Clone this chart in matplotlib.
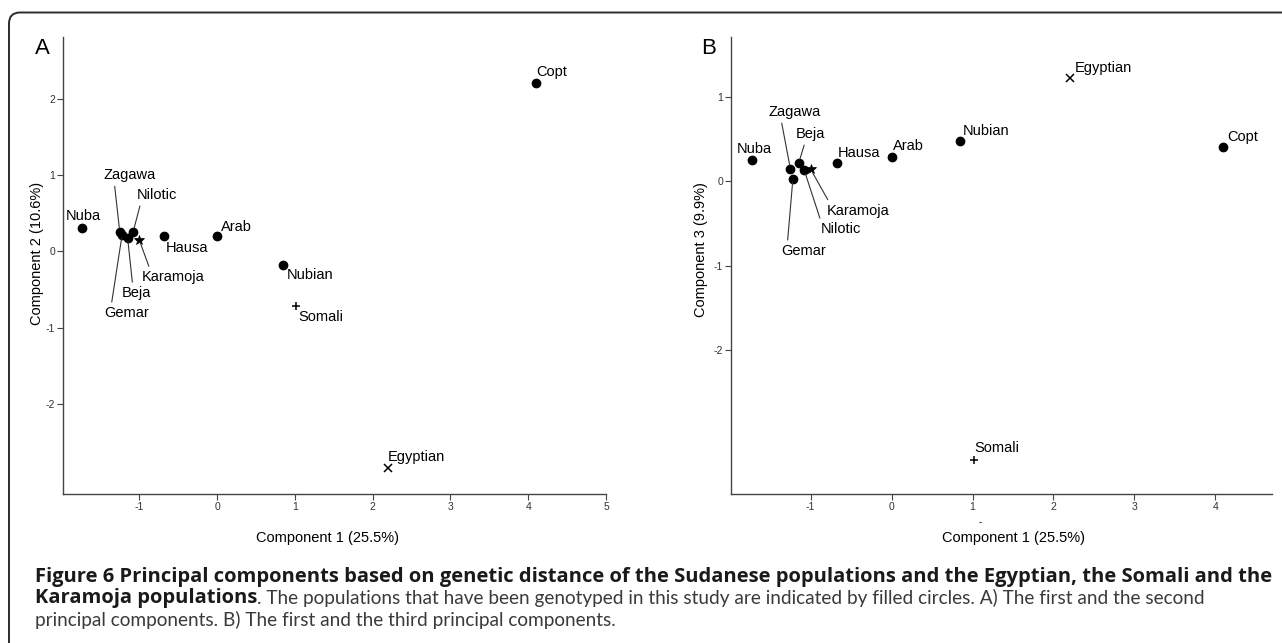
import matplotlib
matplotlib.use('Agg')
import matplotlib.pyplot as plt
from matplotlib.patches import FancyBboxPatch

plt.rcParams['font.family'] = ['Liberation Sans', 'DejaVu Sans']
plt.rcParams['axes.unicode_minus'] = False

# Values
populations = ['Nuba', 'Zagawa', 'Gemar', 'Beja', 'Nilotic', 'Karamoja',
               'Hausa', 'Arab', 'Nubian', 'Somali', 'Egyptian', 'Copt']
pc1 = [-1.73, -1.25, -1.22, -1.15, -1.08, -1.00, -0.68, 0.00, 0.85, 1.02, 2.20, 4.10]
pc2 = [0.31, 0.25, 0.22, 0.18, 0.25, 0.15, 0.20, 0.20, -0.18, -0.72, -2.84, 2.21]
pc3 = [0.25, 0.14, 0.03, 0.21, 0.13, 0.14, 0.21, 0.29, 0.48, -3.31, 1.22, 0.40]
# populations not genotyped in this study get their own symbol
symbols = {'Karamoja': '*', 'Somali': '+', 'Egyptian': 'x'}

xticks_a = [-1, 0, 1, 2, 3, 4, 5]
yticks_a = [2, 1, 0, -1, -2]
xticks_b = [-1, 0, 1, 2, 3, 4]
yticks_b = [1, 0, -1, -2]

# label placement: (x, y, ha, va, relpos of leader line or None)
labels_a = {
    'Copt': (4.10, 2.35, 'left', 'center', None),
    'Nuba': (-1.95, 0.46, 'left', 'center', None),
    'Zagawa': (-1.12, 1.00, 'center', 'center', (0.2, 0.0)),
    'Nilotic': (-0.77, 0.74, 'center', 'center', (0.1, 0.0)),
    'Hausa': (-0.66, 0.05, 'left', 'center', None),
    'Arab': (0.05, 0.32, 'left', 'center', None),
    'Nubian': (0.90, -0.31, 'left', 'center', None),
    'Karamoja': (-0.97, -0.34, 'left', 'center', (0.14, 1.0)),
    'Beja': (-1.03, -0.55, 'center', 'center', (0.36, 1.0)),
    'Gemar': (-1.16, -0.81, 'center', 'center', (0.15, 1.0)),
    'Somali': (1.04, -0.86, 'left', 'center', None),
    'Egyptian': (2.20, -2.70, 'left', 'center', None),
}
labels_b = {
    'Egyptian': (2.26, 1.34, 'left', 'center', None),
    'Nubian': (0.88, 0.60, 'left', 'center', None),
    'Copt': (4.15, 0.52, 'left', 'center', None),
    'Nuba': (-1.70, 0.38, 'center', 'center', None),
    'Arab': (0.02, 0.42, 'left', 'center', None),
    'Hausa': (-0.67, 0.34, 'left', 'center', None),
    'Zagawa': (-1.20, 0.82, 'center', 'center', (0.24, 0.0)),
    'Beja': (-1.00, 0.56, 'center', 'center', (0.32, 0.0)),
    'Karamoja': (-0.80, -0.35, 'left', 'center', (0.05, 1.0)),
    'Nilotic': (-0.87, -0.57, 'left', 'center', (0.0, 1.0)),
    'Gemar': (-1.09, -0.83, 'center', 'center', (0.14, 1.0)),
    'Somali': (1.02, -3.17, 'left', 'center', None),
}

W, H = 1282, 643
fig = plt.figure(figsize=(W / 100, H / 100), dpi=100)

# rounded frame around the figure (open at the bottom / right)
frame = FancyBboxPatch((9, -40), 1300, H - 12.5 + 40, boxstyle='round,pad=0,rounding_size=11',
                       transform=None, fill=False, ec='#2b2b2b', lw=1.4)
fig.patches.append(frame)

tick_font = ['Liberation Sans Narrow', 'Liberation Sans']


def px_box(left, top, right, bottom):
    return [left / W, 1 - bottom / H, (right - left) / W, (bottom - top) / H]


def draw_panel(ax, ys, labels, xlim, ylim, xticks, yticks):
    for name, x, y in zip(populations, pc1, ys):
        m = symbols.get(name, 'o')
        if m == 'o':
            ax.plot(x, y, 'o', color='black', ms=6, zorder=3)
        elif m == '*':
            ax.plot(x, y, '*', color='black', ms=7, mew=0.5, zorder=3)
        else:
            ax.plot(x, y, m, color='black', ms=6, mew=1.1, zorder=3)
    for name, x, y in zip(populations, pc1, ys):
        tx, ty, ha, va, rel = labels[name]
        if rel is None:
            ax.text(tx, ty, name, ha=ha, va=va, fontsize=10.5)
        else:
            ax.annotate(name, xy=(x, y), xytext=(tx, ty), ha=ha, va=va, fontsize=10.5,
                        arrowprops=dict(arrowstyle='-', color='#333333', lw=0.8,
                                        relpos=rel, shrinkA=1, shrinkB=3))
    ax.set_xlim(*xlim)
    ax.set_ylim(*ylim)
    ax.set_xticks(xticks)
    ax.set_yticks(yticks)
    ax.spines['top'].set_visible(False)
    ax.spines['right'].set_visible(False)
    for s in ('left', 'bottom'):
        ax.spines[s].set_color('#444444')
        ax.spines[s].set_linewidth(1.0)
    ax.tick_params(length=4, width=0.8, color='#444444', labelsize=7.5, pad=1.5,
                   labelcolor='#333333')
    for lab in ax.get_xticklabels() + ax.get_yticklabels():
        lab.set_family(tick_font)


ax_a = fig.add_axes(px_box(63, 37, 606, 494))
draw_panel(ax_a, pc2, labels_a, (-1.98, 5.0), (-3.18, 2.81), xticks_a, yticks_a)
ax_b = fig.add_axes(px_box(731, 37, 1272, 494))
draw_panel(ax_b, pc3, labels_b, (-1.985, 4.70), (-3.71, 1.71), xticks_b, yticks_b)

fig.text(42 / W, 1 - 48 / H, 'A', fontsize=16, ha='center', va='center')
fig.text(709 / W, 1 - 48 / H, 'B', fontsize=16, ha='center', va='center')

fig.text(37 / W, 1 - 253 / H, 'Component 2 (10.6%)', rotation=90, fontsize=10.5,
         ha='center', va='center')
fig.text(701 / W, 1 - 250 / H, 'Component 3 (9.9%)', rotation=90, fontsize=10.5,
         ha='center', va='center')
fig.text(328 / W, 1 - 538 / H, 'Component 1 (25.5%)', fontsize=10.5, ha='center', va='center')
fig.text(1014 / W, 1 - 538 / H, 'Component 1 (25.5%)', fontsize=10.5, ha='center', va='center')
fig.text(980 / W, 1 - 522 / H, '-', fontsize=7, ha='center', va='center')

# caption
bold_font = ['Open Sans', 'DejaVu Sans']
text_font = ['Lato', 'Open Sans', 'DejaVu Sans']
line1 = ('Figure 6 Principal components based on genetic distance of the Sudanese '
         'populations and the Egyptian, the Somali and the')
line2_bold = 'Karamoja populations'
line2_rest = ('. The populations that have been genotyped in this study are indicated by '
              'filled circles. A) The first and the second')
line3 = 'principal components. B) The first and the third principal components.'

x0 = 35 / W
r = fig.canvas.get_renderer()
t1 = fig.text(x0, 1 - 577 / H, line1, fontsize=14, weight='bold', family=bold_font,
              va='center', color='#1a1a1a')
fs_b = 14 * (1241 / t1.get_window_extent(r).width)
t1.set_fontsize(fs_b)
t2 = fig.text(x0, 1 - 598 / H, line2_bold, fontsize=fs_b, weight='bold', family=bold_font,
              va='center', color='#1a1a1a')
w2 = t2.get_window_extent(r).width
t3 = fig.text(x0, 1 - 620 / H, line3, fontsize=14, family=text_font, va='center',
              color='#3a3a3a')
fs_n = 14 * (585 / t3.get_window_extent(r).width)
t3.set_fontsize(fs_n)
fig.text(x0 + w2 / W, 1 - 598 / H, line2_rest, fontsize=fs_n, family=text_font,
         va='center', color='#3a3a3a')

fig.savefig('out.png', dpi=100)
